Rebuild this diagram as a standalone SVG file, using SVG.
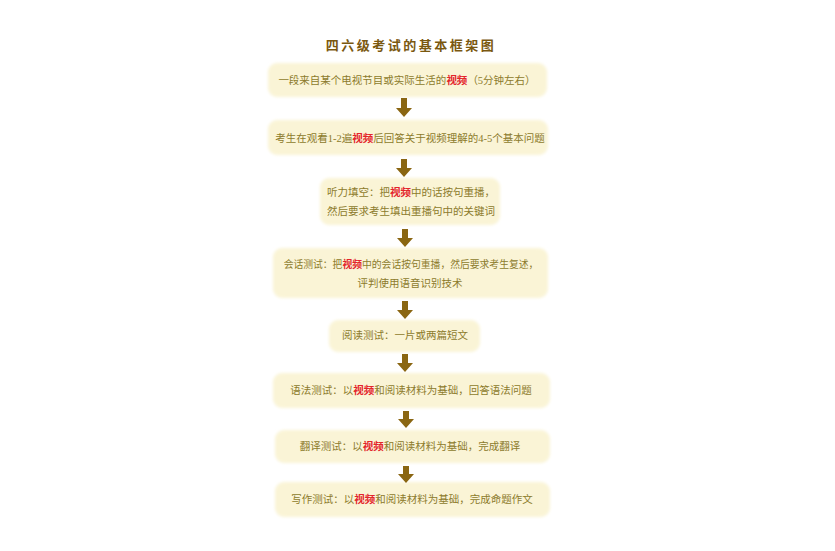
<svg xmlns="http://www.w3.org/2000/svg" width="835" height="551" viewBox="0 0 835 551">
<defs>
<filter id="soft" x="-5%" y="-20%" width="110%" height="140%"><feGaussianBlur stdDeviation="1.6"/></filter>
</defs>
<style>
.box{fill:#faf4d6;filter:url(#soft)}
.t{font-family:"Liberation Serif","Noto Sans CJK SC",serif;font-size:10.5px;fill:#8c7b2c;text-anchor:middle}
.s{font-size:9.8px}
.r{fill:#e3242b;font-weight:bold}
.title{font-family:"Noto Sans CJK SC",sans-serif;font-size:13px;font-weight:bold;fill:#7a5810;text-anchor:middle;letter-spacing:2.5px}
.arr{fill:#8a6612}
</style>
<rect width="835" height="551" fill="#ffffff"/>
<text class="title" x="411" y="50">四六级考试的基本框架图</text>
<g id="n1"><rect class="box" x="268" y="63" width="279" height="34" rx="9"/><text class="t" x="407" y="84">一段来自某个电视节目或实际生活的<tspan class="r">视频</tspan>（5分钟左右）</text></g>
<g id="n2"><rect class="box" x="268" y="120" width="280" height="35" rx="9"/><text class="t" x="410" y="142">考生在观看1-2遍<tspan class="r">视频</tspan>后回答关于视频理解的4-5个基本问题</text></g>
<g id="n3"><rect class="box" x="320" y="178" width="180" height="47" rx="9"/><text class="t" x="411" y="196">听力填空：把<tspan class="r">视频</tspan>中的话按句重播，</text><text class="t" x="411" y="215">然后要求考生填出重播句中的关键词</text></g>
<g id="n4"><rect class="box" x="273" y="248" width="275" height="50" rx="9"/><text class="t s" x="411" y="268">会话测试：把<tspan class="r">视频</tspan>中的会话按句重播，然后要求考生复述，</text><text class="t" x="410" y="287">评判使用语音识别技术</text></g>
<g id="n5"><rect class="box" x="329" y="320" width="151" height="32" rx="9"/><text class="t" x="405" y="339">阅读测试：一片或两篇短文</text></g>
<g id="n6"><rect class="box" x="273" y="373" width="277" height="35" rx="9"/><text class="t" x="411" y="394">语法测试：以<tspan class="r">视频</tspan>和阅读材料为基础，回答语法问题</text></g>
<g id="n7"><rect class="box" x="275" y="430" width="275" height="33" rx="9"/><text class="t" x="410" y="450">翻译测试：以<tspan class="r">视频</tspan>和阅读材料为基础，完成翻译</text></g>
<g id="n8"><rect class="box" x="275" y="482" width="275" height="35" rx="9"/><text class="t" x="412" y="503">写作测试：以<tspan class="r">视频</tspan>和阅读材料为基础，完成命题作文</text></g>
<g id="connectors">
<path class="arr" d="M401,98 h6 v10 h5 l-8,9 l-8,-9 h5 z"/>
<path class="arr" d="M401,159 h6 v9 h5 l-8,9 l-8,-9 h5 z"/>
<path class="arr" d="M402,229 h6 v9 h5 l-8,9 l-8,-9 h5 z"/>
<path class="arr" d="M402,301 h6 v9 h5 l-8,9 l-8,-9 h5 z"/>
<path class="arr" d="M402,354 h6 v9 h5 l-8,9 l-8,-9 h5 z"/>
<path class="arr" d="M403,411 h6 v8 h5 l-8,9 l-8,-9 h5 z"/>
<path class="arr" d="M403,466 h6 v8 h5 l-8,9 l-8,-9 h5 z"/>
</g>
</svg>
